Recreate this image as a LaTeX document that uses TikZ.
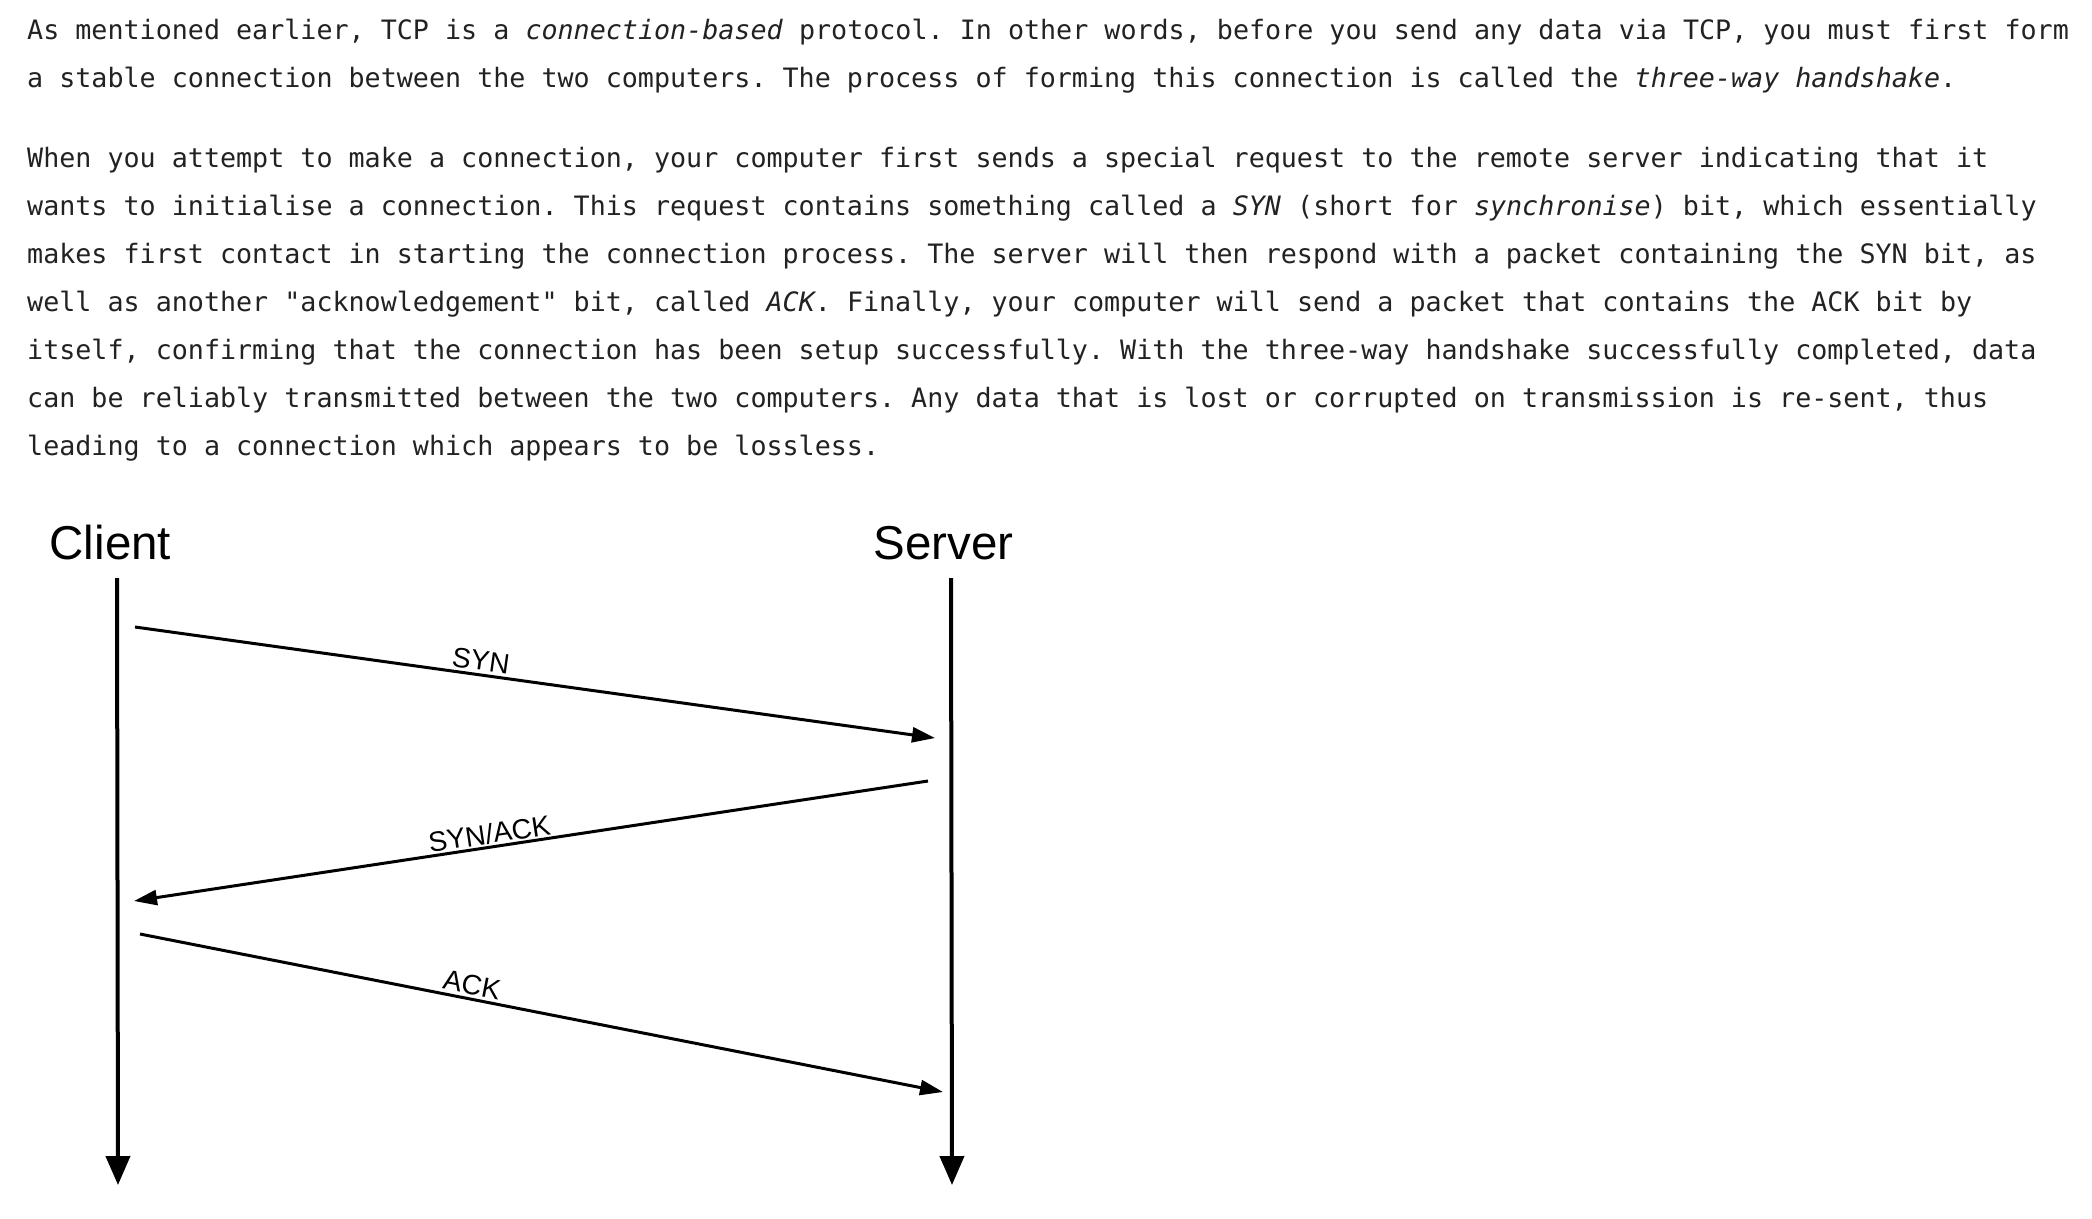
\documentclass[tikz,border=0pt]{standalone}
\usepackage{fontspec}
\setmainfont{Liberation Sans}
\newfontfamily\bodymono{DejaVu Sans Mono}
\usetikzlibrary{arrows.meta}
\definecolor{ink}{HTML}{222222}
\frenchspacing
\begin{document}
\begin{tikzpicture}[x=1pt,y=-1pt,
  txt/.style={anchor=base west, inner sep=0pt, text=ink, font=\bodymono\fontsize{26.7pt}{48pt}\selectfont},
  role/.style={anchor=base west, inner sep=0pt, font=\fontsize{47.5pt}{57pt}\selectfont},
  life/.style={line width=4pt, -{Triangle[length=29pt,width=24pt]}},
  msg/.style={line width=3pt, -{Triangle[length=23pt,width=15pt]}},
  lab/.style={sloped, anchor=south, inner sep=3pt, font=\fontsize{28pt}{34pt}\selectfont}]
\path[use as bounding box, fill=white] (0,0) rectangle (2092,1218);
% body text
\node[txt] (l1) at (27,39.5) {As mentioned earlier, TCP is a \textit{connection-based} protocol. In other words, before you send any data via TCP, you must first form};
\node[txt] (l2) at (27,87.5) {a stable connection between the two computers. The process of forming this connection is called the \textit{three-way handshake}.};
\node[txt] (l3) at (27,167.5) {When you attempt to make a connection, your computer first sends a special request to the remote server indicating that it};
\node[txt] (l4) at (27,215.5) {wants to initialise a connection. This request contains something called a \textit{SYN} (short for \textit{synchronise}) bit, which essentially};
\node[txt] (l5) at (27,263.5) {makes first contact in starting the connection process. The server will then respond with a packet containing the SYN bit, as};
\node[txt] (l6) at (27,311.5) {well as another "acknowledgement" bit, called \textit{ACK}. Finally, your computer will send a packet that contains the ACK bit by};
\node[txt] (l7) at (27,359.5) {itself, confirming that the connection has been setup successfully. With the three-way handshake successfully completed, data};
\node[txt] (l8) at (27,407.5) {can be reliably transmitted between the two computers. Any data that is lost or corrupted on transmission is re-sent, thus};
\node[txt] (l9) at (27,455.5) {leading to a connection which appears to be lossless.};
% roles
\node[role] (client) at (49.5,559) {Client};
\node[role] (server) at (873.5,559) {Server};
% lifelines
\coordinate (ctop) at (117,578);
\coordinate (cbot) at (118,1185);
\coordinate (stop) at (951,578);
\coordinate (sbot) at (952,1185);
\draw[life] (ctop) -- (cbot);
\draw[life] (stop) -- (sbot);
% messages
\coordinate (synA) at (135,627);
\coordinate (synB) at (935,738);
\coordinate (saA) at (928,781);
\coordinate (saB) at (134,901);
\coordinate (ackA) at (140,934);
\coordinate (ackB) at (943,1092);
\draw[msg] (synA) -- node[lab, pos=0.43] {SYN} (synB);
\draw[msg] (saA) -- (saB);
\path (saB) -- node[lab, pos=0.45] {SYN/ACK} (saA);
\draw[msg] (ackA) -- node[lab, pos=0.41] {ACK} (ackB);
\end{tikzpicture}
\end{document}
